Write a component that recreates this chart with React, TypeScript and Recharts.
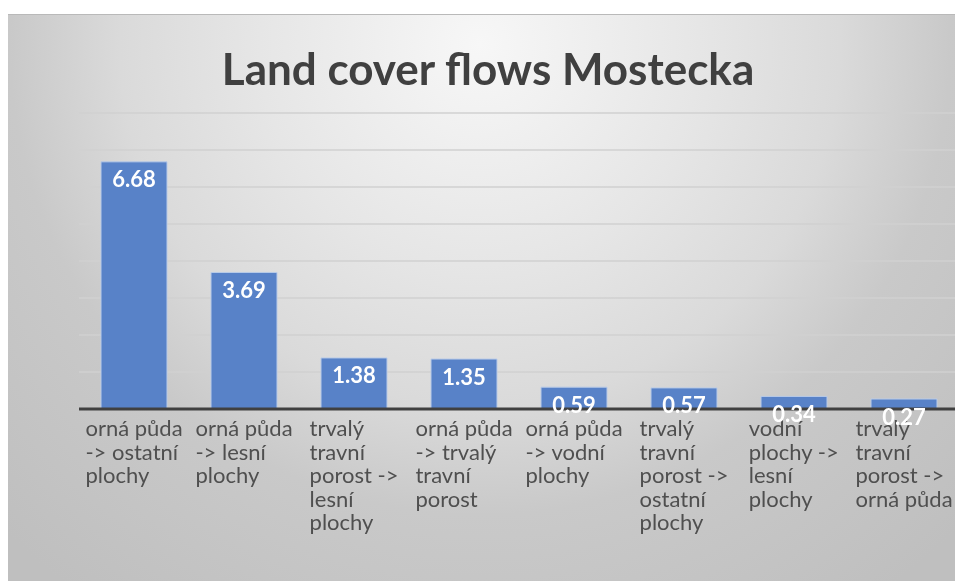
import React from 'react';
import { BarChart, Bar, XAxis, YAxis, CartesianGrid, LabelList } from 'recharts';

const categories = [
    'orná půda -> ostatní plochy',
    'orná půda -> lesní plochy',
    'trvalý travní porost -> lesní plochy',
    'orná půda -> trvalý travní porost',
    'orná půda -> vodní plochy',
    'trvalý travní porost -> ostatní plochy',
    'vodní plochy -> lesní plochy',
    'trvalý travní porost -> orná půda',
];
const flows = [6.68, 3.69, 1.38, 1.35, 0.59, 0.57, 0.34, 0.27];
const yTicks = [0, 1, 2, 3, 4, 5, 6, 7, 8];

const data = categories.map((name, i) => ({ name, value: flows[i] }));

const FONT = 'Lato, "Noto Sans", sans-serif';
const TICK_SIZE = 22;

// greedy word wrap, roughly like Excel does at this width
const wrapLabel = (text: string, maxChars = 10) => {
    const lines: string[] = [];
    let cur = '';
    text.split(' ').forEach((word) => {
        const next = cur ? cur + ' ' + word : word;
        if (next.length > maxChars && cur) {
            lines.push(cur);
            cur = word;
        } else {
            cur = next;
        }
    });
    if (cur) lines.push(cur);
    return lines;
};

let ctx: CanvasRenderingContext2D | null = null;
const measure = (s: string) => {
    if (!ctx) ctx = document.createElement('canvas').getContext('2d');
    if (!ctx) return s.length * TICK_SIZE * 0.5;
    ctx.font = `${TICK_SIZE}px Lato`;
    return ctx.measureText(s).width;
};

// block is centred under the bar, lines are left aligned inside it
const CategoryTick = ({ x, y, payload }: any) => {
    const lines = wrapLabel(String(payload.value));
    const w = Math.max(...lines.map(measure));
    const left = x - w / 2;
    return (
        <text x={left} y={y} fill="#4f4f4f" fontSize={TICK_SIZE} fontFamily={FONT}>
            {lines.map((l, i) => (
                <tspan key={i} x={left} dy={i === 0 ? 19 : 23.5}>{l}</tspan>
            ))}
        </text>
    );
};

const ValueLabel = ({ x, y, width, value }: any) => (
    <text
        x={Number(x) + Number(width) / 2}
        y={Number(y) + 17}
        textAnchor="middle"
        dominantBaseline="central"
        fill="#ffffff"
        fontSize={22}
        fontWeight={700}
        fontFamily={FONT}
    >
        {Number(value).toFixed(2)}
    </text>
);

const App: React.FC = () => {
    return (
        <div style={{
            position: 'fixed',
            left: 8,
            top: 14,
            width: 947,
            height: 567,
            overflow: 'hidden',
            borderTop: '1px solid #b9b9b9',
            background: 'radial-gradient(circle at 472px 30px, #f7f7f7 0px, #e6e6e6 220px, #dadada 360px, #c9c9c9 470px, #bfbfbf 680px)',
        }}>
            <div style={{
                position: 'absolute',
                left: 0,
                top: 31,
                width: 960,
                textAlign: 'center',
                fontFamily: FONT,
                fontWeight: 700,
                fontSize: 44,
                lineHeight: '44px',
                color: '#404040',
            }}>
                Land cover flows Mostecka
            </div>
            <BarChart
                width={960}
                height={566}
                data={data}
                margin={{ top: 98, right: 9, left: 71, bottom: 22 }}
                barCategoryGap="20%"
                style={{ position: 'absolute', left: 0, top: 0 }}
            >
                <CartesianGrid vertical={false} stroke="#d0d0d0" strokeWidth={1.5} />
                <YAxis hide domain={[0, 8]} ticks={yTicks} />
                <XAxis
                    dataKey="name"
                    height={150}
                    interval={0}
                    tickLine={false}
                    axisLine={{ stroke: '#404040', strokeWidth: 3 }}
                    tick={<CategoryTick />}
                />
                <Bar
                    dataKey="value"
                    fill="#5882c8"
                    stroke="#b9cbe8"
                    strokeWidth={1}
                    barSize={66}
                    isAnimationActive={false}
                >
                    <LabelList dataKey="value" content={<ValueLabel />} />
                </Bar>
            </BarChart>
        </div>
    );
};

export default App;
